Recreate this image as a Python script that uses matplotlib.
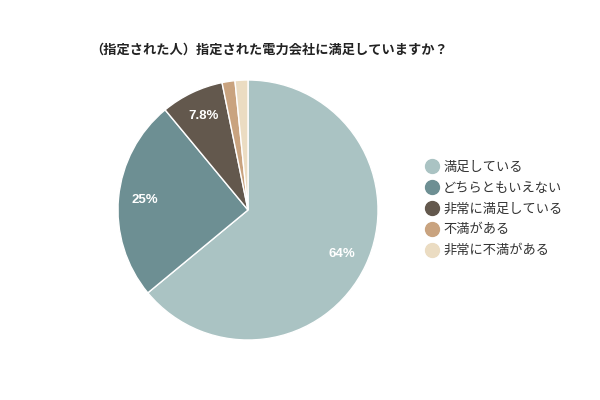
import matplotlib.pyplot as plt
from matplotlib.lines import Line2D

plt.rcParams['font.family'] = ['Noto Sans CJK JP', 'DejaVu Sans']

# データ
title = '（指定された人）指定された電力会社に満足していますか？'
categories = ['満足している', 'どちらともいえない', '非常に満足している', '不満がある', '非常に不満がある']
values = [64, 25, 7.8, 1.6, 1.6]
labels = ['64%', '25%', '7.8%', '', '']
colors = ['#aac3c3', '#6d8f93', '#63584d', '#c9a37f', '#ebdcc2']

fig = plt.figure(figsize=(6, 4), dpi=100)
ax = fig.add_axes([118 / 600, 60 / 400, 260 / 600, 260 / 400])

wedges, texts = ax.pie(values, colors=colors, startangle=90, counterclock=False,
                       labels=labels, labeldistance=0.8,
                       wedgeprops=dict(edgecolor='white', linewidth=1))
for t in texts:
    t.set_color('white')
    t.set_fontweight('bold')
    t.set_fontsize(9.5)
    t.set_family(['Liberation Sans', 'DejaVu Sans'])
    t.set_ha('center')
    t.set_va('center')
ax.set_xlim(-1, 1)
ax.set_ylim(-1, 1)
ax.set_aspect('equal')

fig.text(90 / 600, 1 - 50 / 400, title, ha='left', va='center',
         fontsize=9.5, fontweight='bold', color='#222222')

handles = [Line2D([0], [0], marker='o', linestyle='', markersize=10,
                  markerfacecolor=c, markeredgecolor=c) for c in colors]
fig.legend(handles, categories, loc='center left', bbox_to_anchor=(412 / 600, 1 - 209 / 400),
           frameon=False, fontsize=9.5, handletextpad=0.25, labelspacing=0.6,
           handlelength=1.2, labelcolor='#333333')

fig.savefig('out.png', dpi=100)
